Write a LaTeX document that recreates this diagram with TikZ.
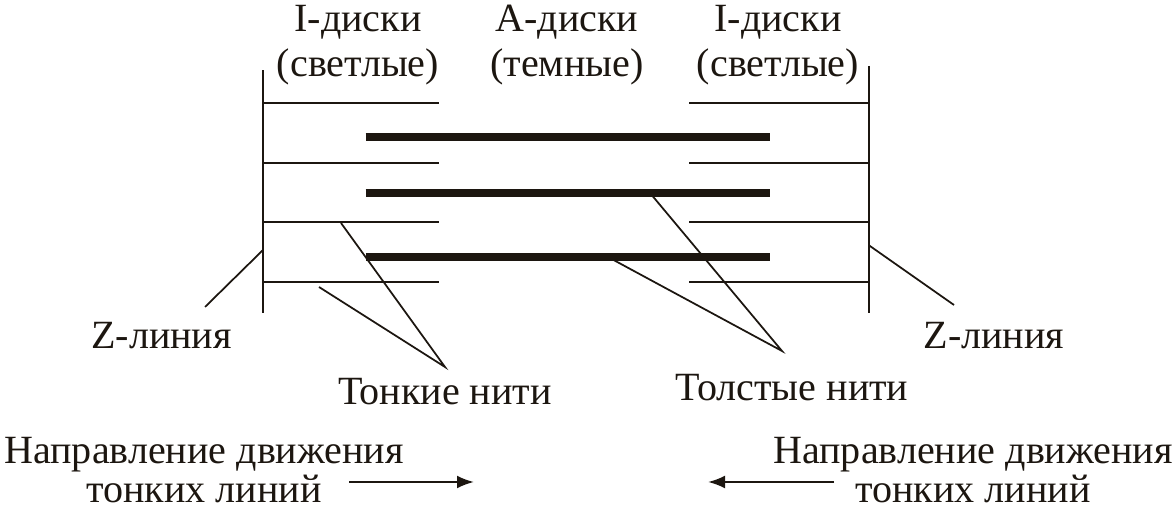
\documentclass[tikz,border=0pt]{standalone}
\usepackage{fontspec}
\setmainfont{Liberation Serif}
\usetikzlibrary{arrows.meta}
\definecolor{ink}{RGB}{28,22,16}

\begin{document}
\begin{tikzpicture}[
	thin filament/.style={line width=0.4mm, color=ink},
	thick filament/.style={line width=1.55mm, color=ink},
	zline/.style={line width=0.4mm, color=ink},
	pointer/.style={line width=0.35mm, color=ink},
	move/.style={line width=0.45mm, color=ink, -{Latex[length=3.4mm, width=2.6mm]}},
	lbl/.style={color=ink, inner sep=0pt, align=center, font=\fontsize{22.8}{25.6}\selectfont},
	lblb/.style={lbl, font=\fontsize{22.8}{22.2}\selectfont}
	]
			%%%%% START %%%%%
			
			\useasboundingbox (0, 0) rectangle (23.5, 10.2);
			
			% disc labels
			\node[lbl] (Ileft) at (7.16, 9.30) {I-диски\\(светлые)};
			\node[lbl] (Amid) at (11.34, 9.30) {A-диски\\(темные)};
			\node[lbl] (Iright) at (15.56, 9.30) {I-диски\\(светлые)};
			
			% Z lines
			\draw[zline] (5.26, 8.79) -- (5.26, 3.94);
			\draw[zline] (17.37, 8.88) -- (17.37, 3.94);
			
			% thin filaments
			\foreach \y in {8.14, 6.94, 5.76, 4.56} {
				\draw[thin filament] (5.26, \y) -- (8.77, \y);
				\draw[thin filament] (13.78, \y) -- (17.37, \y);
			}
			
			% thick filaments
			\foreach \y in {7.46, 6.34, 5.06}
				\draw[thick filament] (7.31, \y) -- (15.40, \y);
			
			% pointers
			\node[lbl, anchor=base] (zleft) at (3.23, 3.22) {Z-линия};
			\node[lbl, anchor=base] (zright) at (19.88, 3.22) {Z-линия};
			\node[lbl, anchor=base] (thinlbl) at (8.90, 2.10) {Тонкие нити};
			\node[lbl, anchor=base] (thicklbl) at (15.84, 2.18) {Толстые нити};
			
			\coordinate (zl1) at (5.26, 5.20);
			\coordinate (zl2) at (4.10, 4.06);
			\coordinate (zr1) at (17.37, 5.30);
			\coordinate (zr2) at (19.08, 4.10);
			\draw[pointer] (zl1) -- (zl2);
			\draw[pointer] (zr1) -- (zr2);
			
			\coordinate (tn) at (8.90, 2.86);
			\coordinate (tn1) at (6.82, 5.74);
			\coordinate (tn2) at (6.38, 4.46);
			\draw[pointer] (tn1) -- (tn) -- (tn2);
			
			\coordinate (tk) at (15.64, 3.18);
			\coordinate (tk1) at (13.00, 6.34);
			\coordinate (tk2) at (12.16, 5.06);
			\draw[pointer] (tk1) -- (tk) -- (tk2);
			
			% direction of movement
			\node[lblb] (dirleft) at (4.08, 0.80) {Направление движения\\тонких линий};
			\node[lblb] (dirright) at (19.46, 0.80) {Направление движения\\тонких линий};
			
			\coordinate (al1) at (6.98, 0.56);
			\coordinate (al2) at (9.48, 0.56);
			\coordinate (ar1) at (16.68, 0.56);
			\coordinate (ar2) at (14.16, 0.56);
			\draw[move] (al1) -- (al2);
			\draw[move] (ar1) -- (ar2);
			
			%%%%% END %%%%%
		\end{tikzpicture}
\end{document}
